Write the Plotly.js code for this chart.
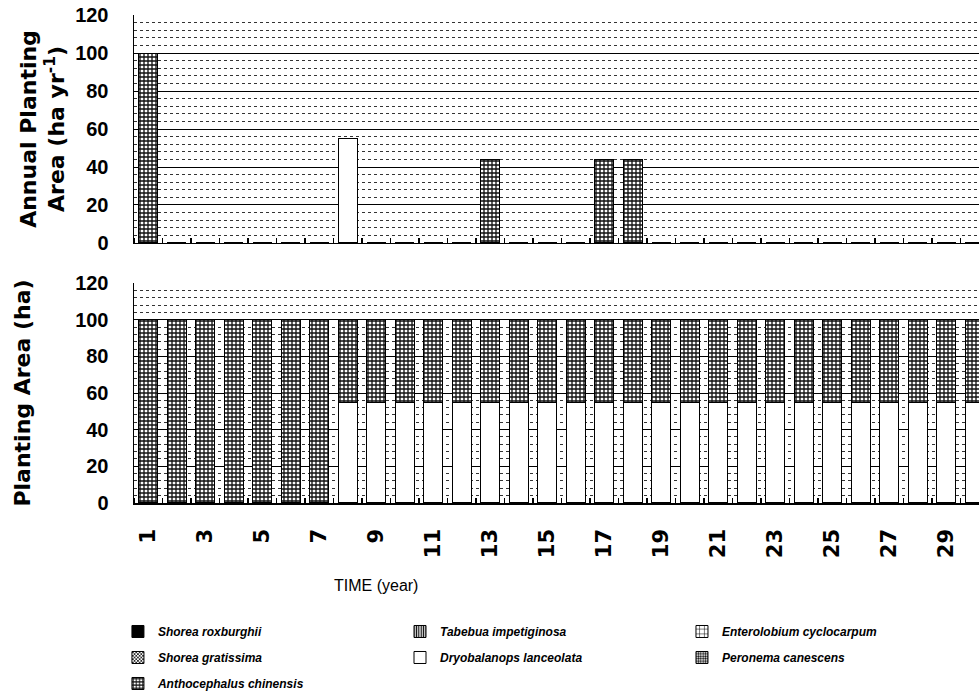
<!DOCTYPE html>
<html>
<head>
<meta charset="utf-8">
<script src="https://cdn.plot.ly/plotly-3.0.1.min.js"></script>
<style>html,body{margin:0;padding:0;background:#fff;}#chart{width:979px;height:699px;}</style>
</head>
<body>
<div id="chart"></div>
<script>
// ---- data ----
const years = [1,2,3,4,5,6,7,8,9,10,11,12,13,14,15,16,17,18,19,20,21,22,23,24,25,26,27,28,29,30];
const tickYears = [1,3,5,7,9,11,13,15,17,19,21,23,25,27,29];
const tickLabels = ['1','3','5','7','9','11','13','15','17','19','21','23','25','27','29'];

// Annual planting area (ha/yr)
const annualAnthocephalus = [100,0,0,0,0,0,0,0,0,0,0,0,44,0,0,0,44,44,0,0,0,0,0,0,0,0,0,0,0,0];
const annualDryobalanops  = [0,0,0,0,0,0,0,55,0,0,0,0,0,0,0,0,0,0,0,0,0,0,0,0,0,0,0,0,0,0];

// Planting area (ha)
const areaDryobalanops  = [0,0,0,0,0,0,0,55,55,55,55,55,55,55,55,55,55,55,55,55,55,55,55,55,55,55,55,55,55,55];
const areaAnthocephalus = [100,100,100,100,100,100,100,45,45,45,45,45,45,45,45,45,45,45,45,45,45,45,45,45,45,45,45,45,45,45];

// legend entries, column by column
const legendCol1 = ['Shorea roxburghii','Shorea gratissima','Anthocephalus chinensis'];
const legendCol2 = ['Tabebua impetiginosa','Dryobalanops lanceolata'];
const legendCol3 = ['Enterolobium cyclocarpum','Peronema canescens'];

// ---- styles ----
const line = {color:'black', width:1};
const brick = {color:'#ffffff', line:line, pattern:{shape:'+', bgcolor:'#ffffff', fgcolor:'#111111', size:4, solidity:0.55}};
const white = {color:'#ffffff', line:line};
const styles = {
  'Shorea roxburghii': {color:'#000000', line:line},
  'Tabebua impetiginosa': {color:'#ffffff', line:line, pattern:{shape:'|', bgcolor:'#ffffff', fgcolor:'#000', size:3, solidity:0.5}},
  'Enterolobium cyclocarpum': {color:'#ffffff', line:line, pattern:{shape:'+', bgcolor:'#ffffff', fgcolor:'#000', size:6, solidity:0.2}},
  'Shorea gratissima': {color:'#ffffff', line:line, pattern:{shape:'x', bgcolor:'#ffffff', fgcolor:'#000', size:3, solidity:0.5}},
  'Dryobalanops lanceolata': white,
  'Peronema canescens': {color:'#ffffff', line:line, pattern:{shape:'.', bgcolor:'#ffffff', fgcolor:'#000', size:3, solidity:0.5}},
  'Anthocephalus chinensis': brick
};
const legendOf = {};
legendCol1.forEach(s=>legendOf[s]='legend');
legendCol2.forEach(s=>legendOf[s]='legend2');
legendCol3.forEach(s=>legendOf[s]='legend3');
const order = legendCol1.concat(legendCol2, legendCol3);

const traces = [];
// top panel
traces.push({type:'bar', x:years, y:annualDryobalanops, xaxis:'x', yaxis:'y', name:'Dryobalanops lanceolata', marker:white, showlegend:false});
traces.push({type:'bar', x:years, y:annualAnthocephalus, xaxis:'x', yaxis:'y', name:'Anthocephalus chinensis', marker:brick, showlegend:false});
// bottom panel (also the legend entries); Dryobalanops stacked at the bottom
traces.push({type:'bar', x:years, y:areaDryobalanops, xaxis:'x2', yaxis:'y2', name:'Dryobalanops lanceolata', marker:white,
             legend:legendOf['Dryobalanops lanceolata'], legendgroup:'g_dry', legendrank:order.indexOf('Dryobalanops lanceolata')+1});
traces.push({type:'bar', x:years, y:areaAnthocephalus, xaxis:'x2', yaxis:'y2', name:'Anthocephalus chinensis', marker:brick,
             legend:legendOf['Anthocephalus chinensis'], legendgroup:'g_ant', legendrank:order.indexOf('Anthocephalus chinensis')+1});
order.forEach((s,i)=>{
  if (s==='Dryobalanops lanceolata' || s==='Anthocephalus chinensis') return;
  traces.push({type:'bar', x:[null], y:[null], xaxis:'x2', yaxis:'y2', name:s, marker:styles[s],
               legend:legendOf[s], legendgroup:'g'+i, legendrank:i+1});
});

const tickFontY = {family:'Liberation Sans, Arial, sans-serif', size:20, color:'black', weight:'bold'};
const titleFontY = {family:'DejaVu Sans, sans-serif', size:22, color:'black', weight:'bold'};
const legFont = {family:'Liberation Sans, Arial, sans-serif', size:12, color:'black', weight:'bold', style:'italic'};

const yCommon = {
  range:[0,120], tickmode:'linear', tick0:0, dtick:20,
  showgrid:true, gridcolor:'#000', gridwidth:1,
  minor:{tickmode:'linear', tick0:0, dtick:4, showgrid:true, gridcolor:'#333', griddash:'dot', gridwidth:1, ticks:''},
  showline:true, linecolor:'#000', linewidth:1.5,
  ticks:'inside', ticklen:4, tickcolor:'#000', tickwidth:1,
  tickfont:tickFontY, ticklabelstandoff:20, zeroline:false, fixedrange:true
};
const xCommon = {
  range:[0.5,30.15], showgrid:false, zeroline:false,
  showline:true, linecolor:'#000', linewidth:1.5,
  ticks:'', tickmode:'array', tickvals:tickYears, ticktext:tickLabels,
  minor:{tickmode:'linear', tick0:0.5, dtick:1, ticks:'inside', ticklen:5, tickcolor:'#000', tickwidth:1.5, showgrid:false},
  fixedrange:true
};

const legBase = {orientation:'v', xanchor:'left', yanchor:'top', bgcolor:'rgba(0,0,0,0)', borderwidth:0,
                 tracegroupgap:7, traceorder:'grouped', font:legFont, itemclick:false, itemdoubleclick:false};
const legY = -0.2336;

const layout = {
  width:979, height:699,
  margin:{l:134, r:0, t:15, b:196, pad:0},
  paper_bgcolor:'#fff', plot_bgcolor:'#fff',
  barmode:'stack', bargap:0.33,
  showlegend:true,
  xaxis: Object.assign({}, xCommon, {anchor:'y', showticklabels:false}),
  xaxis2: Object.assign({}, xCommon, {anchor:'y2', showticklabels:true, tickangle:-90,
           tickfont:{family:'DejaVu Sans, sans-serif', size:21, color:'black', weight:'bold'}, ticklabelstandoff:16}),
  yaxis: Object.assign({}, yCommon, {domain:[0.5328,1], anchor:'x',
           title:{text:'Annual Planting<br>Area (ha yr<sup>-1</sup>)', font:titleFontY, standoff:4}}),
  yaxis2: Object.assign({}, yCommon, {domain:[0,0.4508], anchor:'x2',
           title:{text:'Planting Area (ha)', font:titleFontY, standoff:38}}),
  legend: Object.assign({}, legBase, {x:-0.019, y:legY}),
  legend2: Object.assign({}, legBase, {x:0.3148, y:legY}),
  legend3: Object.assign({}, legBase, {x:0.6485, y:legY}),
  annotations:[{text:'TIME (year)', xref:'paper', yref:'paper', x:0.2858, y:-0.170, showarrow:false,
                xanchor:'center', yanchor:'middle',
                font:{family:'Liberation Sans, Arial, sans-serif', size:16, color:'black'}}]
};

Plotly.newPlot('chart', traces, layout, {displayModeBar:false, staticPlot:true});
</script>
</body>
</html>
